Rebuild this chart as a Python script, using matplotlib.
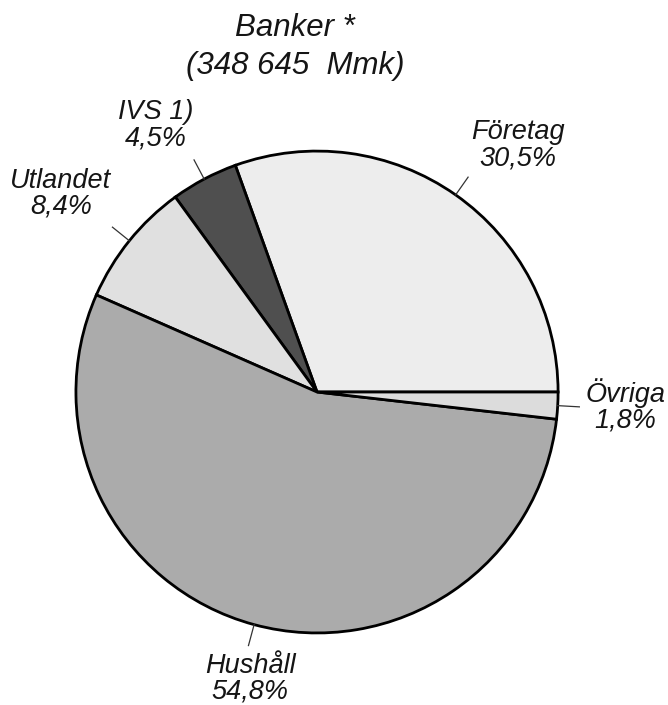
import matplotlib.pyplot as plt
import numpy as np

# data, counterclockwise from 3 o'clock
categories = ["Företag", "IVS 1)", "Utlandet", "Hushåll", "Övriga"]
shares = [30.5, 4.5, 8.4, 54.8, 1.8]
share_labels = ["30,5%", "4,5%", "8,4%", "54,8%", "1,8%"]
colors = ["#ededed", "#4f4f4f", "#e0e0e0", "#ababab", "#dcdcdc"]

# label block centres (data units, pie radius = 1)
label_pos = [(0.834, 1.025), (-0.668, 1.108), (-1.062, 0.822), (-0.278, -1.19), (1.278, -0.058)]

plt.rcParams['font.family'] = ['Liberation Sans', 'DejaVu Sans']

fig = plt.figure(figsize=(6.68, 7.05), dpi=100)
ax = fig.add_axes([0, 0, 1, 1])

wedges, _ = ax.pie(shares, startangle=0, counterclock=True, colors=colors,
                   wedgeprops=dict(edgecolor='black', linewidth=2))

for w, cat, lab, (tx, ty) in zip(wedges, categories, share_labels, label_pos):
    ang = np.deg2rad((w.theta1 + w.theta2) / 2)
    ax.plot([np.cos(ang), 1.09 * np.cos(ang)], [np.sin(ang), 1.09 * np.sin(ang)],
            color='#333333', lw=0.9)
    ax.text(tx, ty, cat + "\n" + lab, ha='center', va='center', fontsize=19.5,
            style='italic', linespacing=1.0, color='#151515')

ax.text(-0.091, 1.51, "Banker *", ha='center', va='center', fontsize=22.5,
        style='italic', color='#151515')
ax.text(-0.091, 1.355, "(348 645  Mmk)", ha='center', va='center', fontsize=22.5,
        style='italic', color='#151515')

ax.set_xlim(-1.315, 1.456)
ax.set_ylim(-1.299, 1.627)
ax.set_aspect('auto')
ax.axis('off')

plt.savefig("out.png", dpi=100)
